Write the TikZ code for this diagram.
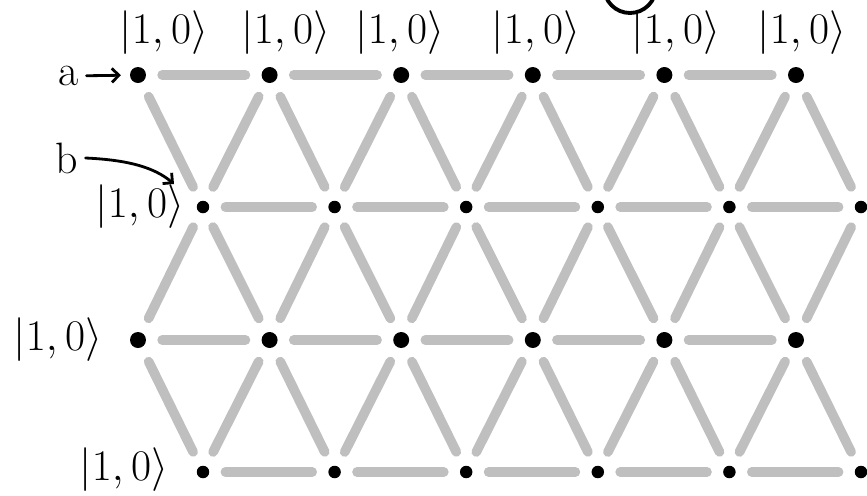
\documentclass[tikz,border=0pt]{standalone}
\usetikzlibrary{arrows.meta}

\tikzset{
  site/.style={circle, fill=black, inner sep=0pt, minimum size=#1},
  bond/.style={draw=gray!50, line width=5.5pt, line cap=round, shorten <=9pt, shorten >=9pt},
  ket/.style={font=\fontsize{25}{30}\selectfont, inner sep=2pt},
  pointer/.style={line width=1.6pt, line cap=round, -{Straight Barb[length=4pt,width=8pt]}}
}

\begin{document}
\begin{tikzpicture}[x=0.02cm, y=-0.02cm]
    \useasboundingbox (0,0) rectangle (867,495);
    \clip (0,0) rectangle (867,495);
    \foreach \r/\y/\x/\s in {0/75/138/0.32cm, 1/207/203/0.25cm, 2/340/138/0.32cm, 3/472/203/0.25cm} {
        \foreach \i in {0,...,5}
            \node[site=\s] (v-\r-\i) at ({\x+131.6*\i},\y) {};
    }
    \foreach \r in {0,...,3} {
        \foreach \i [count=\j] in {0,...,4}
            \draw[bond] (v-\r-\i) -- (v-\r-\j);
    }
    \foreach \r [evaluate=\r as \s using int(\r+1)] in {0,2} {
        \foreach \i in {0,...,5}
            \draw[bond] (v-\r-\i) -- (v-\s-\i);
        \foreach \i [evaluate=\i as \k using int(\i-1)] in {1,...,5}
            \draw[bond] (v-\r-\i) -- (v-\s-\k);
    }
    \foreach \i in {0,...,5}
        \draw[bond] (v-1-\i) -- (v-2-\i);
    \foreach \i [count=\j] in {0,...,4}
        \draw[bond] (v-1-\i) -- (v-2-\j);

    \foreach \x [count=\i from 0] in {164,286,400,536,676,802}
        \node[ket] (k-0-\i) at (\x,33) {$|1,0\rangle$};
    \node[ket] (k-1-0) at (140,207) {$|1,0\rangle$};
    \node[ket] (k-2-0) at (58,340) {$|1,0\rangle$};
    \node[ket] (k-3-0) at (124,470) {$|1,0\rangle$};

    \node[ket, inner sep=4pt] (lbl-a) at (69,76) {a};
    \draw[pointer, shorten >=5pt] (lbl-a) -- (v-0-0);
    \node[ket, inner sep=4pt] (lbl-b) at (67,158) {b};
    \coordinate (b-tip) at (174,184);
    \draw[pointer] (lbl-b.east) .. controls (130,160) and (155,168) .. (b-tip);

    \draw[line width=2.2pt] (630,-13) circle [radius=0.52cm];
\end{tikzpicture}
\end{document}
